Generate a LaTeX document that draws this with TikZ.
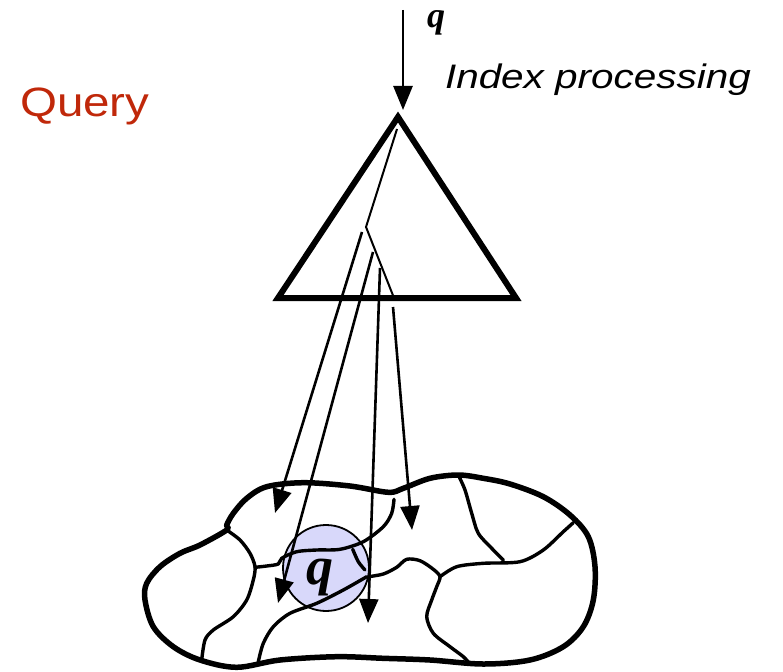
\documentclass[tikz,border=0pt]{standalone}
\usepackage{fontspec}
\setmainfont{Liberation Serif}
\newfontfamily\arialfont{Liberation Sans}
\usetikzlibrary{arrows.meta}
\definecolor{queryred}{RGB}{192,40,10}
\definecolor{qfill}{RGB}{216,216,250}
\begin{document}
\begin{tikzpicture}[x=1pt,y=-1pt,
  tri/.style={line width=6pt,line join=miter},
  treeline/.style={line width=2pt},
  ptr/.style={line width=2.6pt,-{Triangle[length=24pt,width=19pt]}},
  outline/.style={line width=5.5pt,line join=round},
  region/.style={line width=3.4pt,line cap=round,line join=round},
  lbl/.style={inner sep=0pt,outer sep=0pt}]
\useasboundingbox (0,0) rectangle (783,671);
% labels
\node[lbl,anchor=base west,text=queryred] (query) at (20,117)
  {\arialfont\fontsize{41}{48}\selectfont\scalebox{1.16}[1]{Query}};
\node[lbl,anchor=base west] (idx) at (445,89)
  {\arialfont\itshape\fontsize{34}{40}\selectfont\scalebox{1.19}[1]{Index processing}};
\node[lbl,anchor=base west] (qtop) at (427,28)
  {\fontsize{36}{40}\selectfont\bfseries\itshape q};
% triangle (index)
\coordinate (apex) at (398,117);
\coordinate (bl) at (278,298);
\coordinate (br) at (516,298);
\draw[tri] (apex) -- (bl) -- (br) -- cycle;
% tree inside
\coordinate (t0) at (397,129);
\coordinate (t1) at (366,227);
\coordinate (t2) at (394,298);
\draw[treeline] (t0) -- (t1) -- (t2);
% query arrow
\coordinate (qs) at (403,10);
\coordinate (qe) at (403,110);
\draw[ptr] (qs) -- (qe);
% circle of query
\node[circle,draw,line width=1.8pt,fill=qfill,minimum size=86pt,inner sep=0pt] (qc) at (326,568) {};
% blob outline
\draw[outline] plot[smooth cycle,tension=0.55] coordinates {
 (226.7,525) (233.3,513.3) (246.7,498.3) (266.7,486.7) (303.3,482.7) (350,486)
 (388.3,492.3) (403.3,488.3) (430,478.3) (458.3,475) (483.3,478.3) (510,484)
 (543.3,496.7) (570,515) (588.3,536.7) (595,566.7) (593.3,600) (583.3,626.7)
 (563.3,646.7) (530,660) (483.3,664) (430,660) (383.3,658.3) (336.7,656.7)
 (280,660) (236.7,667.3) (200,660) (173.3,646.7) (153.3,626.7) (145,600)
 (146.7,583.3) (160,566.7) (180,553.3) (200,545) (226.7,530)};
% region borders
\draw[region] plot[smooth,tension=0.5] coordinates {
 (226.7,530) (240,540) (250,553.3) (255,566.7) (253.3,580) (246.7,600)
 (233.3,616.7) (213.3,630) (205,640) (201.7,660)};
\draw[region] plot[smooth,tension=0.5] coordinates {
 (255,567.3) (266.7,566) (278.3,564) (281.7,558.3) (296.7,551.7) (316.7,550)
 (340,549.3) (363.3,541.7) (383.3,526.7) (391.7,513.3) (394,499.3)};
\draw[region] plot[smooth,tension=0.5] coordinates {
 (368.3,576.7) (383.3,574) (396.7,567.3) (406.7,559.3) (420,560.7) (433.3,569.3)
 (440,576.7) (436.7,586.7) (431.7,600) (426.7,616.7) (433.3,633.3) (450,646.7)
 (463.3,656.7) (470,664)};
\draw[region] plot[smooth,tension=0.5] coordinates {
 (440,576.7) (456.7,566.7) (483.3,563.3) (520,561.7) (543.3,550) (563.3,531.7) (573.3,522.7)};
\draw[region] plot[smooth,tension=0.5] coordinates {
 (458.3,475) (465,490) (471.7,513.3) (478.3,533.3) (491.7,548.3) (503.3,560)};
\draw[region] plot[smooth,tension=0.5] coordinates {
 (366.7,576.7) (343.3,590) (316.7,603.3) (290,613.3) (273.3,626.7) (263.3,643.3) (258.3,661.7)};
\draw[region] plot[smooth,tension=0.5] coordinates {
 (352.7,549.3) (358.3,561.7) (365,570)};
% pointers from index leaves to regions
\coordinate (a1s) at (362,232); \coordinate (a1e) at (275,513);
\coordinate (a2s) at (373,252); \coordinate (a2e) at (278,603);
\coordinate (a3s) at (380,268); \coordinate (a3e) at (368,623);
\coordinate (a4s) at (393,307); \coordinate (a4e) at (412,530);
\draw[ptr] (a1s) -- (a1e);
\draw[ptr] (a2s) -- (a2e);
\draw[ptr] (a3s) -- (a3e);
\draw[ptr] (a4s) -- (a4e);
% q in circle
\node[lbl,anchor=base] (qin) at (320,584)
  {\fontsize{54}{60}\selectfont\bfseries\itshape q};
\end{tikzpicture}
\end{document}
